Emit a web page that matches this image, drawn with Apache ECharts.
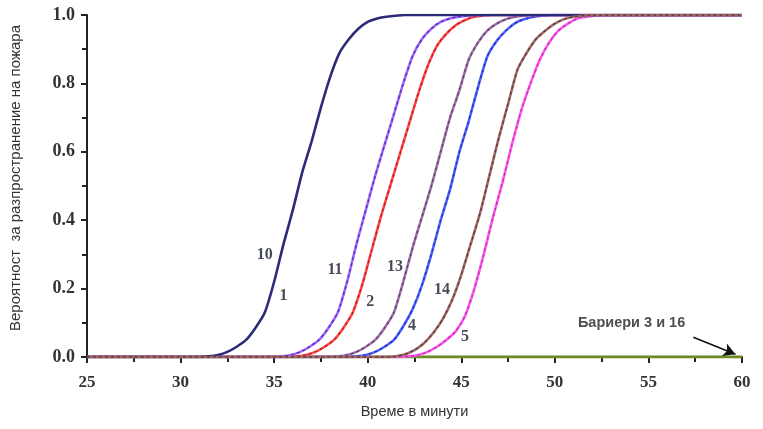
<!DOCTYPE html>
<html>
<head>
<meta charset="utf-8">
<script src="https://cdn.jsdelivr.net/npm/echarts@6/dist/echarts.min.js"></script>
<style>html,body{margin:0;padding:0;background:#fff}#c{width:763px;height:429px}</style>
</head>
<body>
<div id="c"></div>
<script>
// x ticks / y ticks
const xTicks = [25, 30, 35, 40, 45, 50, 55, 60];
const yTicks = [0.0, 0.2, 0.4, 0.6, 0.8, 1.0];

// Curves: [minute, probability]
const curve10_1 = [[25,0],[31,0],[31.5,0.002],[32,0.006],[32.5,0.015],[33,0.03],[33.5,0.05],[34,0.085],[34.5,0.13],[35,0.22],[35.5,0.33],[36,0.43],[36.5,0.54],[37,0.63],[37.5,0.73],[38,0.82],[38.5,0.89],[39,0.93],[39.5,0.96],[40,0.98],[40.5,0.99],[41,0.995],[42,1],[60,1]];
const curve11 = [[25,0],[34.9,0],[35.4,0.002],[35.9,0.006],[36.4,0.015],[36.9,0.03],[37.4,0.05],[37.9,0.085],[38.4,0.13],[38.9,0.22],[39.4,0.33],[39.9,0.43],[40.4,0.53],[40.9,0.62],[41.4,0.71],[41.9,0.8],[42.4,0.88],[42.9,0.93],[43.4,0.96],[43.9,0.98],[44.4,0.99],[44.9,0.995],[45.9,1],[60,1]];
const curve2 = [[25,0],[35.7,0],[36.2,0.002],[36.7,0.006],[37.2,0.015],[37.7,0.03],[38.2,0.05],[38.7,0.085],[39.2,0.13],[39.7,0.21],[40.2,0.31],[40.7,0.41],[41.2,0.5],[41.7,0.59],[42.2,0.68],[42.7,0.77],[43.2,0.85],[43.7,0.91],[44.2,0.945],[44.7,0.97],[45.2,0.985],[45.7,0.995],[46.7,1],[60,1]];
const curve13 = [[25,0],[37.9,0],[38.4,0.002],[38.9,0.006],[39.4,0.015],[39.9,0.03],[40.4,0.05],[40.9,0.085],[41.4,0.13],[41.9,0.22],[42.4,0.32],[42.9,0.41],[43.4,0.5],[43.9,0.6],[44.4,0.7],[44.9,0.78],[45.4,0.87],[45.9,0.92],[46.4,0.955],[46.9,0.975],[47.4,0.988],[47.9,0.995],[48.9,1],[60,1]];
const curve4 = [[25,0],[38.9,0],[39.4,0.002],[39.9,0.006],[40.4,0.015],[40.9,0.03],[41.4,0.05],[41.9,0.09],[42.4,0.14],[42.9,0.21],[43.4,0.3],[43.9,0.4],[44.4,0.49],[44.9,0.6],[45.4,0.69],[45.9,0.79],[46.4,0.88],[46.9,0.925],[47.4,0.955],[47.9,0.977],[48.4,0.988],[48.9,0.995],[49.9,1],[60,1]];
const curve14 = [[25,0],[41,0],[41.5,0.002],[42,0.008],[42.5,0.02],[43,0.04],[43.5,0.07],[44,0.11],[44.5,0.165],[45,0.24],[45.5,0.33],[46,0.42],[46.5,0.53],[47,0.64],[47.5,0.74],[48,0.84],[48.5,0.89],[49,0.93],[49.5,0.955],[50,0.975],[50.5,0.988],[51,0.995],[52,1],[60,1]];
const curve5 = [[25,0],[41.7,0],[42.2,0.002],[42.7,0.006],[43.2,0.015],[43.7,0.03],[44.2,0.05],[44.7,0.075],[45.2,0.12],[45.7,0.2],[46.2,0.3],[46.7,0.41],[47.2,0.51],[47.7,0.62],[48.2,0.72],[48.7,0.8],[49.2,0.87],[49.7,0.92],[50.2,0.955],[50.7,0.975],[51.2,0.99],[51.7,0.995],[52.7,1],[60,1]];
const barrier3_16 = [[25,0],[60,0]];

// curve labels: [text, minute, probability]
const curveLabels = [["10",34.5,0.30],["1",35.5,0.18],["11",38.25,0.255],["2",40.13,0.16],["13",41.46,0.265],["4",42.37,0.09],["14",43.97,0.195],["5",45.2,0.058]];
const barrierNote = "Бариери 3 и 16";
const barrierArrow = [[57.4,0.058],[59.65,0.008]];
const barrierTextPos = [54.1,0.1];

const xName = "Време в минути";
const yName = "Вероятност  за разпространение на пожара";

function curve(data, color, dashColor, z) {
  const out = [{
    type: 'line', data: data, showSymbol: false, smooth: 0.2, z: z,
    lineStyle: { color: color, width: 2.6 }, silent: true
  }];
  if (dashColor) {
    out.push({
      type: 'line', data: data, showSymbol: false, smooth: 0.2, z: z + 0.5,
      lineStyle: { color: dashColor, width: 1.3, type: [3, 3] }, silent: true
    });
  }
  return out;
}

const chart = echarts.init(document.getElementById('c'));
const series = [
  { type: 'line', data: barrier3_16, showSymbol: false, z: 2,
    lineStyle: { color: '#6b8a23', width: 3 }, silent: true,
    markLine: { silent: true, symbol: ['none', 'arrow'], symbolSize: [10, 12],
      label: { show: false },
      lineStyle: { color: '#111', width: 1.6, type: 'solid' },
      data: [[{ coord: barrierArrow[0] }, { coord: barrierArrow[1] }]] } },
  ...curve(curve5, '#ff55ee', '#c030b0', 3),
  ...curve(curve4, '#5060ff', '#2030c0', 4),
  ...curve(curve13, '#a070a8', '#604068', 5),
  ...curve(curve2, '#ff4848', '#b02020', 6),
  ...curve(curve11, '#a066ff', '#5030b0', 7),
  ...curve(curve10_1, '#2b2b78', null, 8),
  ...curve(curve14, '#a06868', '#603838', 9),
  { type: 'scatter', symbolSize: 0, z: 20, silent: true,
    data: curveLabels.map(d => ({ value: [d[1], d[2]], name: d[0] })),
    label: { show: true, position: 'inside', formatter: p => p.name,
      fontFamily: 'Liberation Serif', fontWeight: 'bold', fontSize: 16, color: '#141c2c' } },
  { type: 'scatter', symbolSize: 0, z: 20, silent: true,
    data: [{ value: barrierTextPos, name: barrierNote }],
    label: { show: true, position: 'inside', formatter: p => p.name,
      fontFamily: 'Liberation Sans', fontWeight: 'bold', fontSize: 14.5, color: '#222' } }
];

chart.setOption({
  animation: false,
  backgroundColor: '#fff',
  grid: { left: 87, right: 21, top: 15, bottom: 72, containLabel: false, outerBoundsMode: 'none' },
  xAxis: {
    type: 'value', min: xTicks[0], max: xTicks[xTicks.length - 1], interval: 5,
    name: xName, nameLocation: 'middle', nameGap: 47,
    nameTextStyle: { fontFamily: 'Liberation Sans', fontSize: 14.5, color: '#333' },
    axisLine: { lineStyle: { color: '#222', width: 2 } },
    axisTick: { show: true, length: 6, lineStyle: { color: '#222', width: 2 } },
    minorTick: { show: true, splitNumber: 2, length: 5, lineStyle: { color: '#222', width: 2 } },
    splitLine: { show: false },
    axisLabel: { fontFamily: 'Liberation Serif', fontWeight: 'bold', fontSize: 17, color: '#333', margin: 17 }
  },
  yAxis: {
    type: 'value', min: yTicks[0], max: yTicks[yTicks.length - 1], interval: 0.2,
    name: yName, nameLocation: 'middle', nameGap: 64, nameRotate: 90,
    nameTextStyle: { fontFamily: 'Liberation Sans', fontSize: 15, color: '#333', padding: [0, 0, 0, 16] },
    axisLine: { show: true, lineStyle: { color: '#222', width: 2 } },
    axisTick: { show: true, length: 6, lineStyle: { color: '#222', width: 2 } },
    minorTick: { show: true, splitNumber: 2, length: 5, lineStyle: { color: '#222', width: 2 } },
    splitLine: { show: false },
    axisLabel: { fontFamily: 'Liberation Serif', fontWeight: 'bold', fontSize: 18, color: '#333', margin: 12,
      formatter: v => v.toFixed(1) }
  },
  series: series
});
</script>
</body>
</html>
